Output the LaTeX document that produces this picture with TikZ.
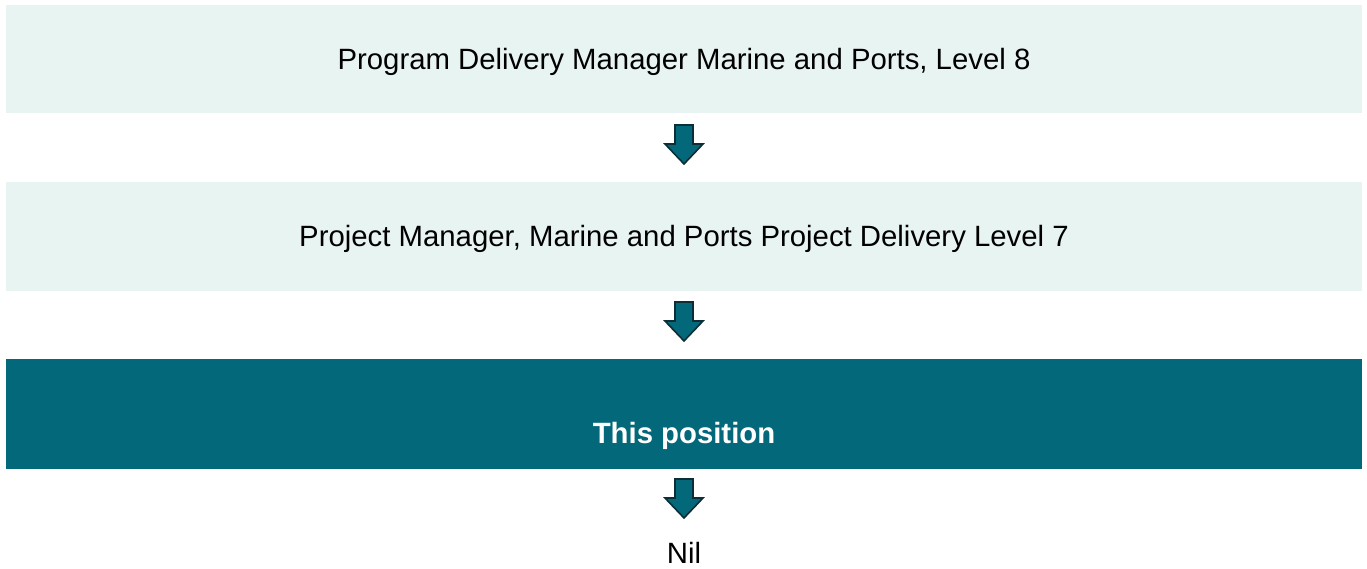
\documentclass[tikz,border=0pt]{standalone}
\usepackage{fontspec}
\setmainfont{Liberation Sans}
\definecolor{lightbox}{HTML}{E8F4F2}
\definecolor{teal}{HTML}{03687A}
\definecolor{arrowline}{HTML}{0D2E36}
\begin{document}
\begin{tikzpicture}[x=0.75pt,y=-0.75pt,
  lbox/.style={fill=lightbox,draw=none},
  dbox/.style={fill=teal,draw=none},
  lbl/.style={font=\fontsize{22pt}{26pt}\selectfont,text=black,inner sep=0pt},
  downarrow/.style={fill=teal,draw=arrowline,line width=1.2pt,line join=miter}]
\useasboundingbox (0,0) rectangle (1367,568);
\fill[lbox] (6,5) rectangle (1362,113);
\fill[lbox] (6,182) rectangle (1362,291);
\fill[dbox] (6,359) rectangle (1362,469);
\node[lbl] (t1) at (684,62) {Program Delivery Manager Marine and Ports, Level 8};
\node[lbl] (t2) at (684,239) {Project Manager, Marine and Ports Project Delivery Level 7};
\node[lbl,text=white,font=\bfseries\fontsize{22pt}{26pt}\selectfont] (t3) at (684,436) {This position};
\node[lbl] (t4) at (684,553) {Nil};
\foreach \y in {125,302,479}{
  \draw[downarrow] (675,\y) -- (693,\y) -- (693,\y+19) -- (703,\y+19) -- (684,\y+39) -- (665,\y+19) -- (675,\y+19) -- cycle;
}
\end{tikzpicture}
\end{document}
